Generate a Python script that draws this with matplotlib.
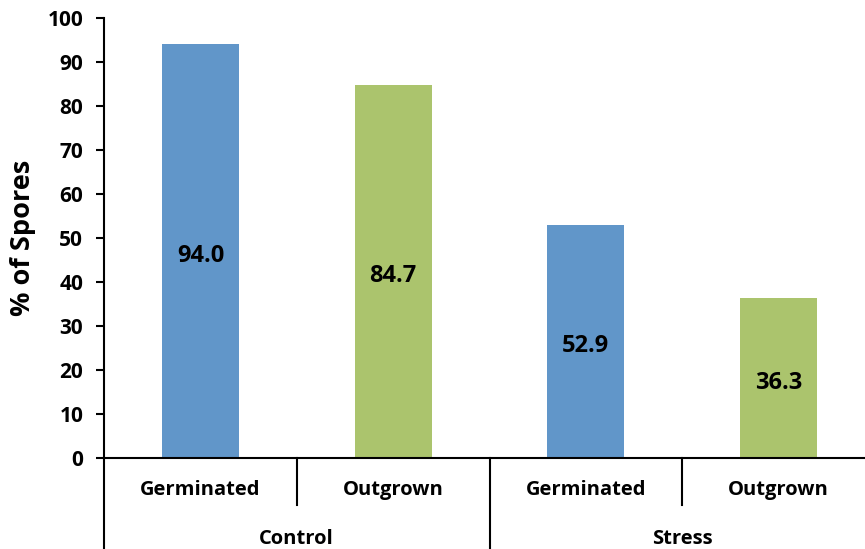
import matplotlib
matplotlib.use("Agg")
import matplotlib.pyplot as plt
import matplotlib.transforms as mtransforms

groups = ["Control", "Stress"]
subcats = ["Germinated", "Outgrown"]
values = [94.0, 84.7, 52.9, 36.3]
value_labels = ["94.0", "84.7", "52.9", "36.3"]
yticks = [0, 10, 20, 30, 40, 50, 60, 70, 80, 90, 100]
colors = ["#6196C9", "#ABC46D", "#6196C9", "#ABC46D"]

plt.rcParams['font.family'] = ['Open Sans', 'DejaVu Sans']

fig = plt.figure(figsize=(8.65, 5.49), dpi=100)
ax = fig.add_axes([104/865, 91/549, 771/865, 440/549])

x = list(range(len(values)))
ax.bar(x, values, width=0.4, color=colors, zorder=2)
for xi, v, lab in zip(x, values, value_labels):
    ax.annotate(lab, xy=(xi, v / 2), xytext=(0, -3.3), textcoords='offset points',
                ha='center', va='center', fontsize=17, fontweight='bold')

ax.set_xlim(-0.5, 3.5)
ax.set_ylim(0, 100)
ax.set_yticks(yticks)
ax.set_yticklabels([str(t) for t in yticks], fontsize=15, fontweight='bold')
ax.tick_params(axis='y', direction='out', length=6, width=1.5, pad=9)
ax.set_xticks([])
for s in ['top', 'right']:
    ax.spines[s].set_visible(False)
ax.spines['left'].set_linewidth(1.5)
ax.spines['bottom'].set_linewidth(1.5)
ax.set_ylabel("% of Spores", fontsize=19.5, fontweight='bold')
ax.yaxis.set_label_coords(-0.088, 0.5)

trans = mtransforms.blended_transform_factory(ax.transData, ax.transAxes)
# short separators between subcategories
for xs in [0.5, 2.5]:
    ax.plot([xs, xs], [0, -0.107], transform=trans, color='black', lw=1.5, clip_on=False)
# long separators between groups
for xs in [-0.5, 1.5]:
    ax.plot([xs, xs], [0, -0.25], transform=trans, color='black', lw=1.5, clip_on=False)

for i in range(len(values)):
    ax.text(i, -0.073, subcats[i % 2], transform=trans, ha='center', va='center',
            fontsize=14.5, fontweight='bold')
for g, name in enumerate(groups):
    ax.text(2 * g + 0.5, -0.183, name, transform=trans, ha='center', va='center',
            fontsize=14.5, fontweight='bold')

fig.savefig("out.png", dpi=100)
